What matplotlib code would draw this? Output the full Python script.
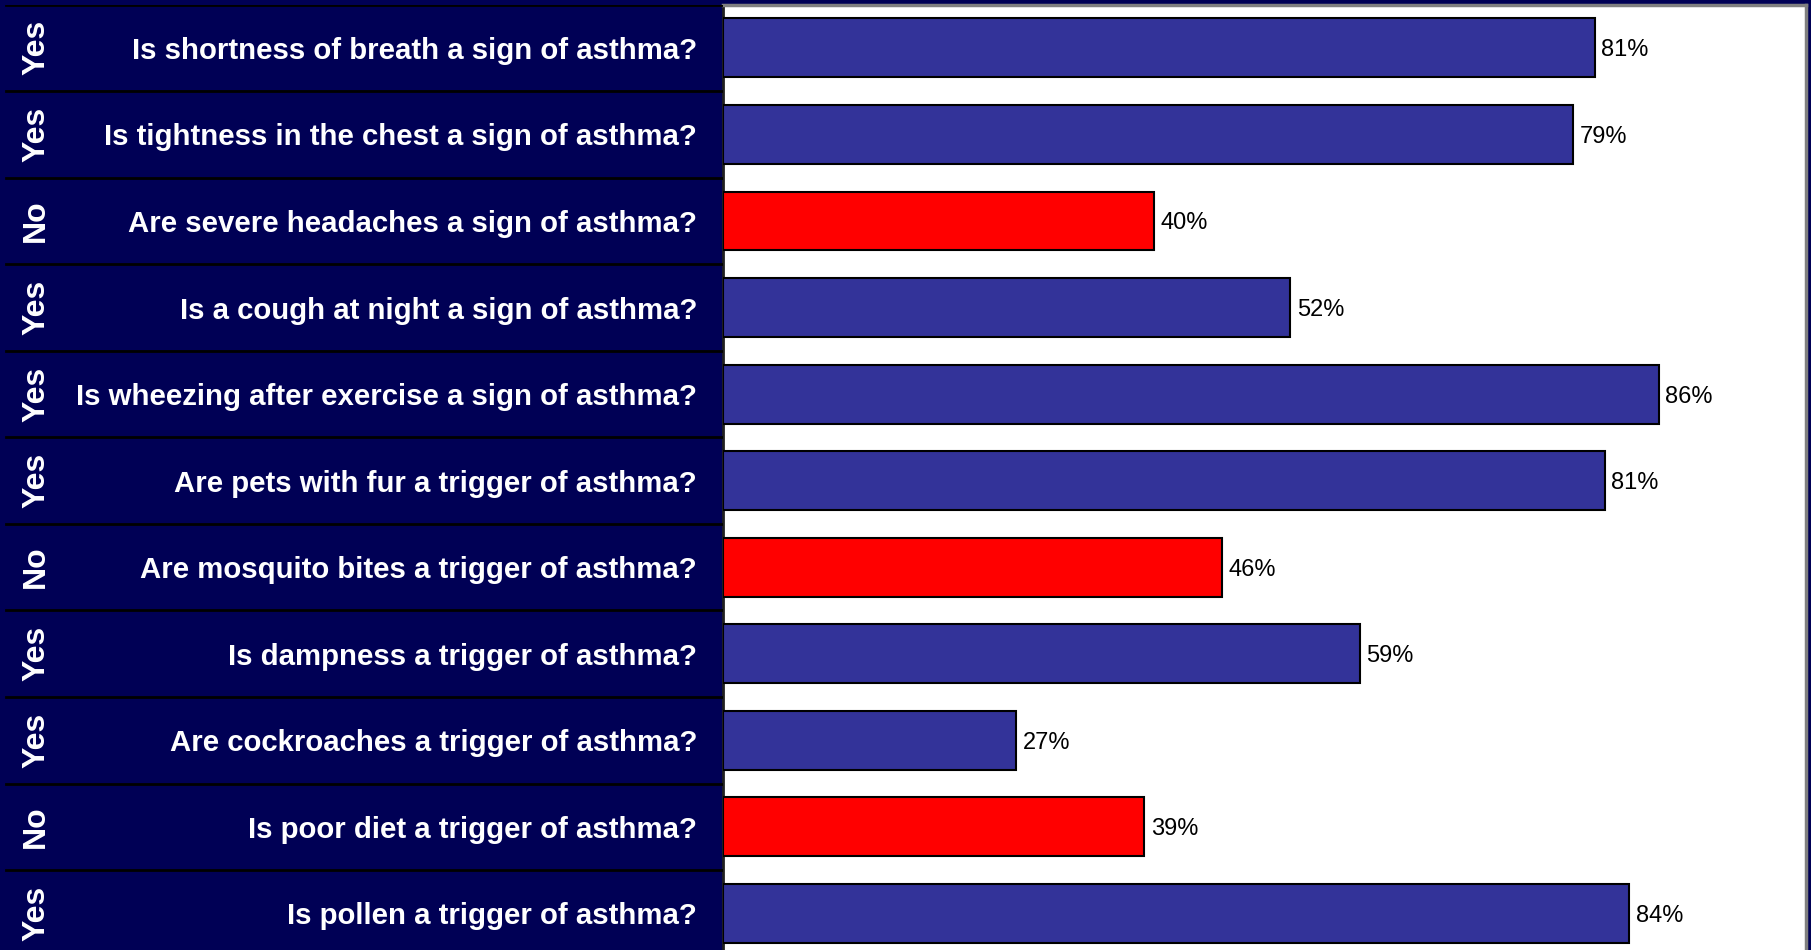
import matplotlib
matplotlib.use("Agg")
import matplotlib.pyplot as plt

questions = [
    "Is shortness of breath a sign of asthma?",
    "Is tightness in the chest a sign of asthma?",
    "Are severe headaches a sign of asthma?",
    "Is a cough at night a sign of asthma?",
    "Is wheezing after exercise a sign of asthma?",
    "Are pets with fur a trigger of asthma?",
    "Are mosquito bites a trigger of asthma?",
    "Is dampness a trigger of asthma?",
    "Are cockroaches a trigger of asthma?",
    "Is poor diet a trigger of asthma?",
    "Is pollen a trigger of asthma?",
]
answers = ["Yes", "Yes", "No", "Yes", "Yes", "Yes", "No", "Yes", "Yes", "No", "Yes"]
# bar lengths (percent)
values = [80.5, 78.5, 39.8, 52.4, 86.4, 81.4, 46.1, 58.8, 27.1, 38.9, 83.7]
# printed labels
value_labels = ["81%", "79%", "40%", "52%", "86%", "81%", "46%", "59%", "27%", "39%", "84%"]

NAVY = "#000055"
BLUE = "#333399"
RED = "#FF0000"

W, H = 1811, 950
fig = plt.figure(figsize=(W / 100, H / 100), dpi=100)
fig.patch.set_facecolor(NAVY)

row_h = 86.55
top_px = 4.6
n = len(values)
ax_bottom_px = top_px + n * row_h
x0, x1 = 723, 1806
ax = fig.add_axes([x0 / W, 1 - ax_bottom_px / H, (x1 - x0) / W, n * row_h / H])
ax.set_facecolor("white")
ypos = list(range(n))
colors = [BLUE if a == "Yes" else RED for a in answers]
ax.barh(ypos, values, height=0.68, color=colors, edgecolor="black", linewidth=1.5, zorder=3)
for y, v, lab in zip(ypos, values, value_labels):
    ax.text(v + 0.6, y, lab, va="center_baseline", ha="left", fontsize=17,
            family="Liberation Sans", color="black")
ax.set_xlim(0, 100)
ax.set_ylim(n - 0.5, -0.5)
ax.set_xticks([])
ax.set_yticks([])
for s in ["top", "right"]:
    ax.spines[s].set_color("#808080")
    ax.spines[s].set_linewidth(2.5)
ax.spines["left"].set_color("#202020")
ax.spines["left"].set_linewidth(2)
ax.spines["bottom"].set_visible(False)

axl = fig.add_axes([0, 1 - ax_bottom_px / H, x0 / W, n * row_h / H])
axl.set_xlim(0, x0)
axl.set_ylim(n - 0.5, -0.5)
axl.set_facecolor(NAVY)
axl.axis("off")
for i in range(0, n):
    axl.plot([6, x0], [i - 0.5, i - 0.5], color="black", lw=2)
for y, q, a in zip(ypos, questions, answers):
    axl.text(697, y, q, ha="right", va="center_baseline", color="white", fontsize=21.2,
             fontweight="bold", family="Liberation Sans")
    axl.text(36, y, a, ha="center", va="center", rotation=90, color="white",
             fontsize=23, fontweight="bold", family="Liberation Sans")

fig.savefig("out.png", dpi=100, facecolor=NAVY)
